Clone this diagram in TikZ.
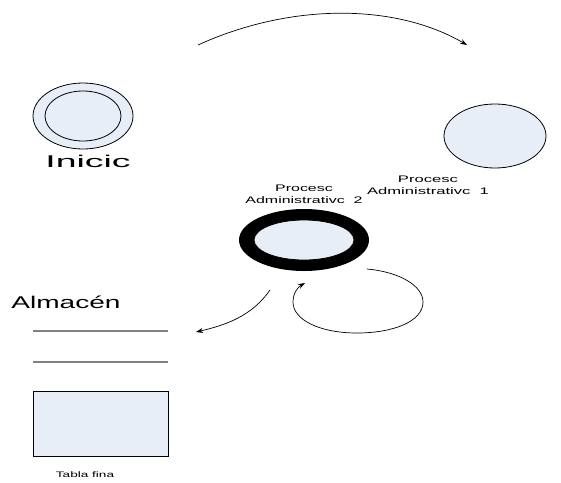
\documentclass[tikz,border=0pt]{standalone}
\usepackage{fontspec}
\setmainfont{Liberation Sans}
\usetikzlibrary{shapes.geometric,arrows.meta}
\definecolor{pale}{RGB}{232,238,248}
\definecolor{rule}{RGB}{128,128,128}
\begin{document}
\begin{tikzpicture}[x=1pt,y=-1pt,
  state/.style={draw=black, ellipse, fill=pale, inner sep=0pt, line width=0.8pt},
  flow/.style={draw=black, line width=0.7pt, -{Stealth[length=7pt,width=5pt]}},
  bigtext/.style={inner sep=0pt, font=\fontsize{17}{19}\selectfont},
  smalltext/.style={inner sep=0pt, align=center, font=\fontsize{9.5}{12}\selectfont}]
\useasboundingbox (0,0) rectangle (561,482);

% start state
\node[state, minimum width=100pt, minimum height=66pt] (inicio) at (83,116) {};
\node[draw=black, ellipse, inner sep=0pt, line width=0.8pt,
      minimum width=76pt, minimum height=50pt] (inicioin) at (83,116) {};
\node[bigtext] (tinicio) at (88,161) {\scalebox{2.2}[1]{Inicic}};

% first process
\node[state, minimum width=102pt, minimum height=64pt] (p1) at (495,136) {};
\node[smalltext] (tp1) at (428,185) {\scalebox{1.75}[1]{Procesc}\\[0pt]\scalebox{1.75}[1]{Administrativc\ \ 1}};

% second process: thick black ring
\node[state, draw=none, fill=black, minimum width=130pt, minimum height=62pt] (p2) at (304,240) {};
\node[state, minimum width=100pt, minimum height=40pt] (p2in) at (304,240) {};
\node[smalltext] (tp2) at (304,194) {\scalebox{1.68}[1]{Procesc}\\[0pt]\scalebox{1.68}[1]{Administrativc\ \ 2}};

% data store
\node[bigtext] (talm) at (66,302) {\scalebox{1.65}[1]{Almacén}};
\coordinate (l1a) at (33,331); \coordinate (l1b) at (168,331);
\coordinate (l2a) at (33,362); \coordinate (l2b) at (168,362);
\draw[rule, line width=1.6pt] (l1a) -- (l1b);
\draw[rule, line width=1.6pt] (l2a) -- (l2b);

% final table
\node[draw=black, fill=pale, line width=0.8pt, minimum width=135pt, minimum height=65pt,
      inner sep=0pt] (tabla) at (100.5,423.5) {};
\node[smalltext, font=\fontsize{8}{10}\selectfont] (ttabla) at (85,475) {\scalebox{1.7}[1]{Tabla fina}};

% connectors
\coordinate (a1s) at (198,45);
\coordinate (a1e) at (467,45);
\draw[flow] (a1s) .. controls (290,3) and (395,3) .. (a1e);

\coordinate (a2s) at (270,290);
\coordinate (a2e) at (196,332);
\draw[flow] (a2s) .. controls (252,316) and (226,325) .. (a2e);

\coordinate (a3s) at (367,269);
\coordinate (a3r) at (423,302);
\coordinate (a3b) at (357,333);
\coordinate (a3l) at (293,302);
\coordinate (a3e) at (305,283);
\draw[flow] (a3s) .. controls (400,272) and (423,286) .. (a3r)
  .. controls (423,322) and (392,333) .. (a3b)
  .. controls (320,333) and (293,320) .. (a3l)
  .. controls (293,293) and (298,287) .. (a3e);
\end{tikzpicture}
\end{document}
